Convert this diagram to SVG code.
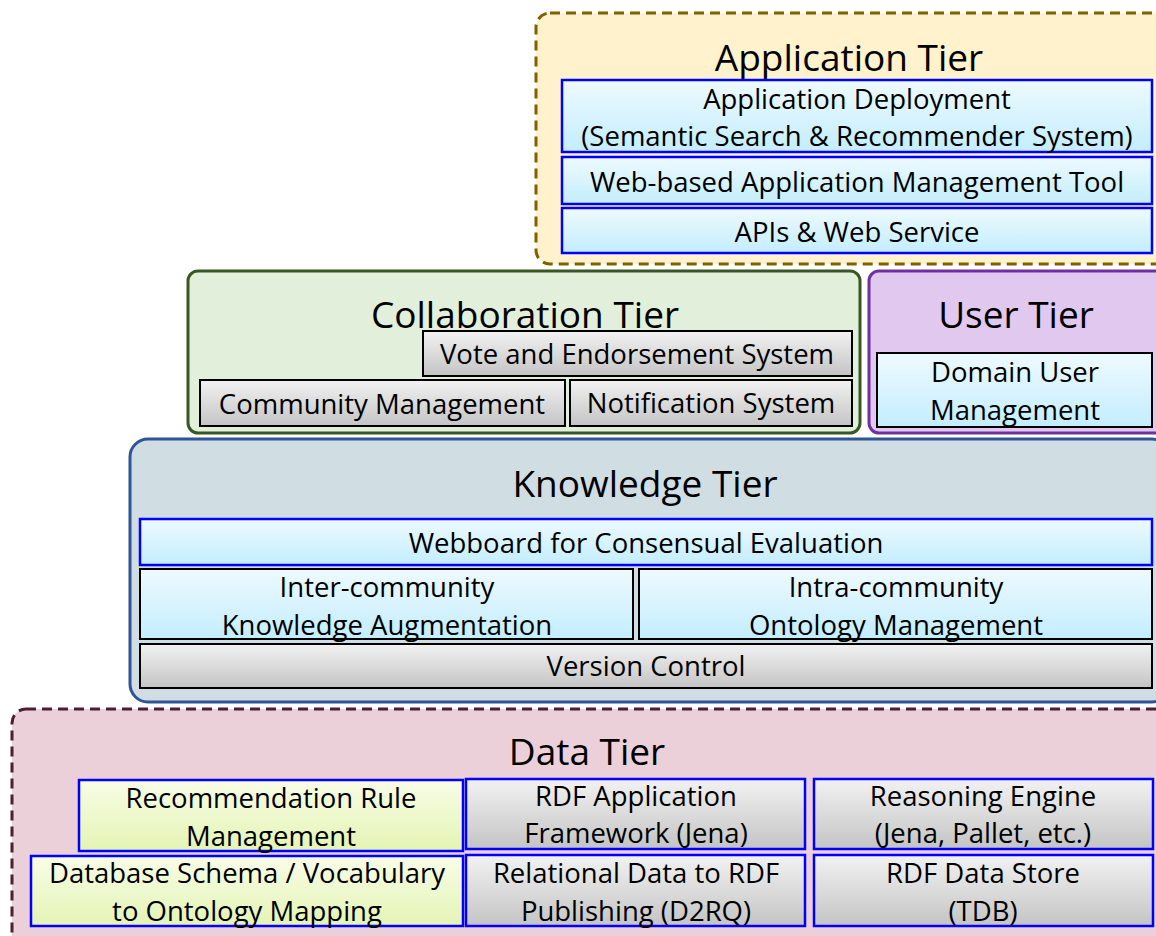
<svg xmlns="http://www.w3.org/2000/svg" width="1156" height="936" viewBox="0 0 1156 936">
<defs>
<linearGradient id="cyan" x1="0" y1="0" x2="0" y2="1"><stop offset="0" stop-color="#EEFAFF"/><stop offset="1" stop-color="#C3EDFD"/></linearGradient>
<linearGradient id="gray" x1="0" y1="0" x2="0" y2="1"><stop offset="0" stop-color="#F2F2F2"/><stop offset="1" stop-color="#C4C4C4"/></linearGradient>
<linearGradient id="lime" x1="0" y1="0" x2="0" y2="1"><stop offset="0" stop-color="#F8FDE8"/><stop offset="1" stop-color="#E4F4B4"/></linearGradient>
</defs>
<style>
text{font-family:"Open Sans","Noto Sans",sans-serif;fill:#000;text-anchor:middle}
.t{font-size:37px}
.b{font-size:27.5px}
.bb{stroke:#0000FF;stroke-width:2.5}
.bk{stroke:#000;stroke-width:2}
</style>
<g id="data-tier">
<rect x="12" y="709" width="1160" height="240" rx="14" fill="#EBD0DA" stroke="#4E1F33" stroke-width="3" stroke-dasharray="10,6"/>
<text class="t" x="587" y="765">Data Tier</text>
</g>
<g id="recommendation-rule"><rect x="79" y="780" width="384" height="71" fill="url(#lime)" class="bb"/><text class="b" x="271" y="808">Recommendation Rule</text><text class="b" x="271" y="846">Management</text></g>
<g id="db-schema"><rect x="31" y="856" width="432" height="70" fill="url(#lime)" class="bb"/><text class="b" x="247" y="883">Database Schema / Vocabulary</text><text class="b" x="247" y="921">to Ontology Mapping</text></g>
<g id="rdf-app"><rect x="466" y="779" width="339" height="70" fill="url(#gray)" class="bb"/><text class="b" x="636" y="806">RDF Application</text><text class="b" x="636" y="843">Framework (Jena)</text></g>
<g id="reasoning"><rect x="814" y="779" width="339" height="70" fill="url(#gray)" class="bb"/><text class="b" x="983" y="806">Reasoning Engine</text><text class="b" x="983" y="843">(Jena, Pallet, etc.)</text></g>
<g id="relational"><rect x="466" y="855" width="339" height="71" fill="url(#gray)" class="bb"/><text class="b" x="636" y="883">Relational Data to RDF</text><text class="b" x="636" y="921">Publishing (D2RQ)</text></g>
<g id="rdf-store"><rect x="814" y="855" width="339" height="71" fill="url(#gray)" class="bb"/><text class="b" x="983" y="883">RDF Data Store</text><text class="b" x="983" y="921">(TDB)</text></g>

<g id="knowledge-tier">
<rect x="130" y="439" width="1040" height="263" rx="18" fill="#D0DEE3" stroke="#2F5597" stroke-width="3"/>
<text class="t" x="645" y="497">Knowledge Tier</text>
</g>
<g id="webboard"><rect x="140" y="519" width="1012" height="46" fill="url(#cyan)" class="bb"/><text class="b" x="646" y="553">Webboard for Consensual Evaluation</text></g>
<g id="inter"><rect x="140" y="569" width="493" height="70" fill="url(#cyan)" class="bk"/><text class="b" x="387" y="597">Inter-community</text><text class="b" x="387" y="635">Knowledge Augmentation</text></g>
<g id="intra"><rect x="639" y="569" width="513" height="70" fill="url(#cyan)" class="bk"/><text class="b" x="896" y="597">Intra-community</text><text class="b" x="896" y="635">Ontology Management</text></g>
<g id="version"><rect x="140" y="644" width="1012" height="44" fill="url(#gray)" class="bk"/><text class="b" x="646" y="676">Version Control</text></g>

<g id="collaboration-tier">
<rect x="188" y="271" width="672" height="162" rx="10" fill="#E2EFDA" stroke="#385723" stroke-width="3"/>
<text class="t" x="525" y="328">Collaboration Tier</text>
</g>
<g id="vote"><rect x="423" y="331" width="429" height="45" fill="url(#gray)" class="bk"/><text class="b" x="637" y="364">Vote and Endorsement System</text></g>
<g id="community"><rect x="200" y="380" width="365" height="46" fill="url(#gray)" class="bk"/><text class="b" x="382" y="414">Community Management</text></g>
<g id="notification"><rect x="570" y="380" width="282" height="46" fill="url(#gray)" class="bk"/><text class="b" x="711" y="413">Notification System</text></g>

<g id="user-tier">
<rect x="869" y="271" width="300" height="162" rx="10" fill="#E1C8EE" stroke="#7030A0" stroke-width="3"/>
<text class="t" x="1016" y="328">User Tier</text>
</g>
<g id="domain-user"><rect x="877" y="353" width="275" height="74" fill="url(#cyan)" class="bk"/><text class="b" x="1015" y="382">Domain User</text><text class="b" x="1015" y="420">Management</text></g>

<g id="application-tier">
<rect x="536" y="13" width="640" height="251" rx="14" fill="#FFF2CC" stroke="#806000" stroke-width="3" stroke-dasharray="10,6"/>
<text class="t" x="849" y="71">Application Tier</text>
</g>
<g id="app-deploy"><rect x="562" y="80" width="590" height="72" fill="url(#cyan)" class="bb"/><text class="b" x="857" y="109">Application Deployment</text><text class="b" x="857" y="146">(Semantic Search &amp; Recommender System)</text></g>
<g id="web-tool"><rect x="562" y="157" width="590" height="47" fill="url(#cyan)" class="bb"/><text class="b" x="857" y="192">Web-based Application Management Tool</text></g>
<g id="apis"><rect x="562" y="208" width="590" height="45" fill="url(#cyan)" class="bb"/><text class="b" x="857" y="242">APIs &amp; Web Service</text></g>
<g id="connectors"/>
</svg>
